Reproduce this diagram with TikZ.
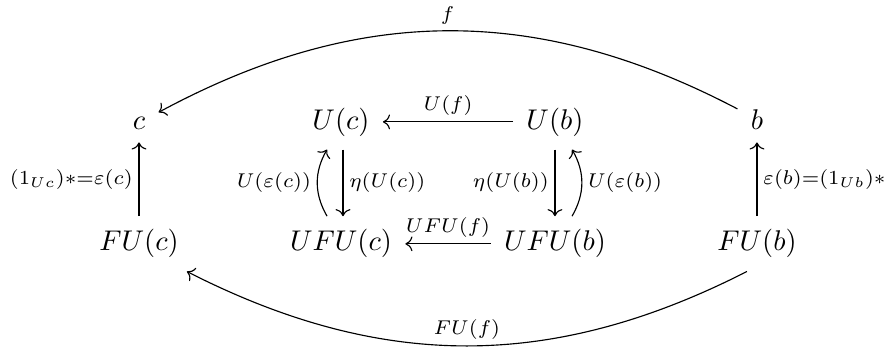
\documentclass[tikz,border=0pt]{standalone}
\usepackage{amsmath,amssymb}
\usetikzlibrary{arrows.meta}
\tikzset{
  obj/.style={anchor=base, inner sep=4.5pt},
  mor/.style={-{Computer Modern Rightarrow}, line width=0.4pt},
  lbl/.style={inner sep=2pt},
}
\begin{document}
\begin{tikzpicture}
    \useasboundingbox (0,0) rectangle (10.95,4.365);
    % objects
    \node[obj] (c)    at (1.714,2.774) {$c$};
    \node[obj] (Uc)   at (4.205,2.774) {$U(c)$};
    \node[obj] (Ub)   at (6.843,2.774) {$U(b)$};
    \node[obj] (b)    at (9.334,2.774) {$b$};
    \node[obj] (FUc)  at (1.714,1.270) {$FU(c)$};
    \node[obj] (UFUc) at (4.205,1.270) {$UFU(c)$};
    \node[obj] (UFUb) at (6.843,1.270) {$UFU(b)$};
    \node[obj] (FUb)  at (9.334,1.270) {$FU(b)$};
    % outer arcs
    \draw[mor] (b) to[bend right=28]
      node[lbl, above] {$\scriptstyle f$} (c);
    \draw[mor] (FUb.250) to[bend left=27]
      node[lbl, above] {$\scriptstyle FU(f)$} (FUc.-30);
    % outer verticals
    \draw[mor] (FUc) -- node[lbl, left] {$\scriptstyle (1_{Uc})*=\varepsilon(c)$} (c);
    \draw[mor] (FUb) -- node[lbl, right] {$\scriptstyle \varepsilon(b)=(1_{Ub})*$} (b);
    % inner square
    \draw[mor] (Ub) -- node[lbl, above] {$\scriptstyle U(f)$} (Uc);
    \draw[mor] (UFUb) -- node[lbl, above] {$\scriptstyle UFU(f)$} (UFUc);
    \draw[mor] ([xshift=0.7pt]Uc.south) --
      node[lbl, right] {$\scriptstyle \eta(U(c))$} ([xshift=0.7pt]UFUc.north);
    \draw[mor] ([xshift=-4.9pt]UFUc.north) to[bend left=30]
      node[lbl, left] {$\scriptstyle U(\varepsilon(c))$} ([xshift=-4.9pt]Uc.south);
    \draw[mor] (Ub.south) --
      node[lbl, left] {$\scriptstyle \eta(U(b))$} (UFUb.north);
    \draw[mor] ([xshift=6pt]UFUb.north) to[bend right=30]
      node[lbl, right] {$\scriptstyle U(\varepsilon(b))$} ([xshift=6pt]Ub.south);
\end{tikzpicture}
\end{document}
